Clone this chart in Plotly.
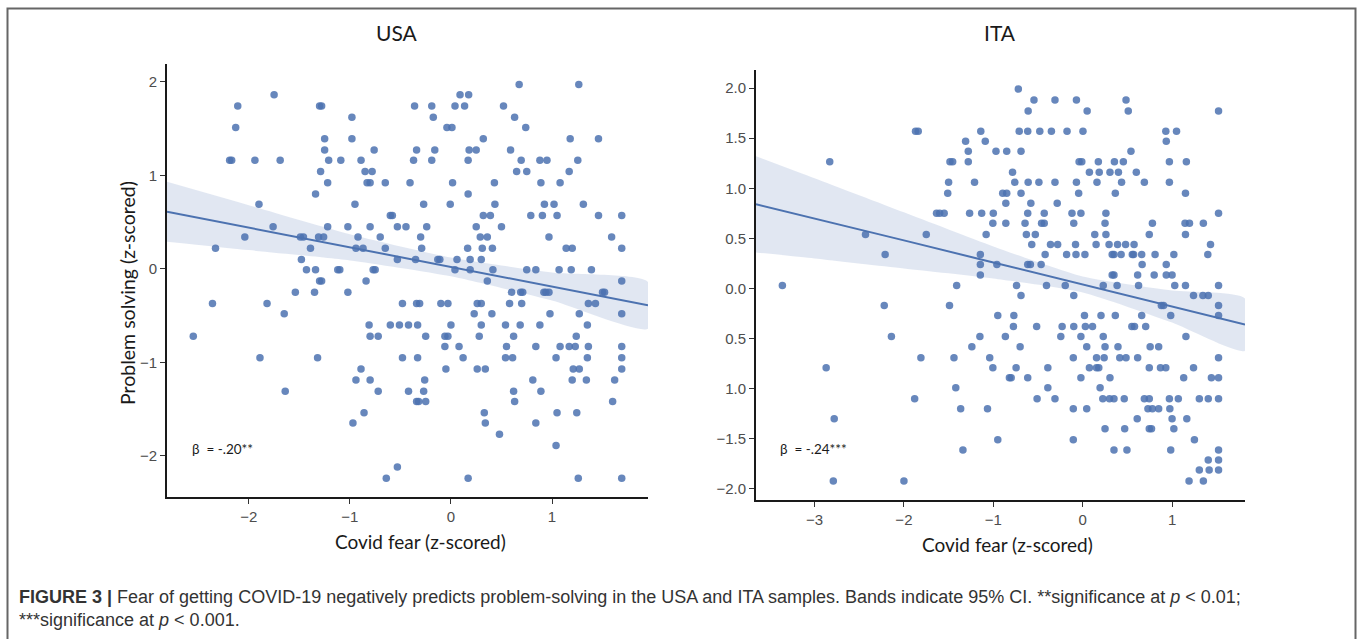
import plotly.graph_objects as go

W, H = 1360, 639

# ---------------- USA data ----------------
usa_levels = [1.97, 1.86, 1.74, 1.62, 1.51, 1.39, 1.27, 1.16, 1.04, 0.92, 0.80, 0.69, 0.57,
              0.45, 0.34, 0.22, 0.10, -0.01, -0.13, -0.25, -0.37, -0.48, -0.60, -0.72, -0.83,
              -0.95, -1.07, -1.19, -1.31, -1.42, -1.54, -1.65, -1.77, -1.89, -2.12, -2.24]
usa_x_by_level = [
    [0.675, 1.265],
    [-1.75, 0.09, 0.175],
    [-2.11, -1.30, -1.28, -0.36, -0.19, 0.04, 0.135, 0.52],
    [-0.98, -0.175, 0.63],
    [-2.13, -0.04, 0.01, 0.74],
    [-1.25, -0.98, 0.32, 1.18, 1.46],
    [-1.25, -0.76, -0.34, -0.16, 0.18, 0.25, 0.59],
    [-2.19, -2.17, -1.94, -1.69, -1.21, -1.09, -0.89, -0.37, -0.19, 0.17, 0.695, 0.88, 0.95, 1.255],
    [-1.29, -0.85, -0.78, 0.65, 0.75, 1.17],
    [-1.22, -0.83, -0.80, -0.65, -0.405, 0.016, 0.43, 0.89, 1.08],
    [-1.34, 0.17],
    [-1.90, -0.95, -0.27, -0.007, 0.435, 0.925, 1.02, 1.31],
    [-0.60, -0.58, 0.32, 0.39, 0.79, 0.905, 1.05, 1.46, 1.69],
    [-1.76, -1.22, -1.02, -0.80, -0.53, -0.445, -0.24, 0.25, 0.50],
    [-2.04, -1.49, -1.46, -1.31, -1.26, -0.92, -0.70, -0.30, 0.29, 0.36, 0.97, 1.59],
    [-2.33, -1.39, -0.94, -0.87, -0.65, -0.29, 0.165, 0.31, 0.41, 1.14, 1.20, 1.69],
    [-1.48, -0.53, -0.35, -0.13, -0.11, 0.06, 0.19, 0.30],
    [-1.43, -1.34, -1.12, -1.10, -0.77, -0.75, 0.04, 0.19, 0.415, 0.75, 0.84, 1.07, 1.19, 1.39],
    [-1.30, -1.28, -0.84, 0.36, 1.69],
    [-1.54, -1.35, -1.02, 0.60, 0.69, 0.71, 0.92, 0.94, 0.97, 1.50, 1.52],
    [-2.36, -1.82, -0.48, -0.34, -0.31, -0.10, -0.03, 0.26, 0.30, 0.58, 0.70, 1.36, 1.43],
    [-1.65, 0.23, 0.405, 0.98, 1.27, 1.69],
    [-0.81, -0.60, -0.51, -0.42, -0.33, 0.00, 0.30, 0.54, 0.685, 0.88, 1.35],
    [-2.55, -0.80, -0.72, -0.25, -0.06, -0.03, 0.28, 0.62, 1.24],
    [-0.06, 0.08, 0.55, 0.84, 1.08, 1.17, 1.23, 1.36, 1.69],
    [-1.89, -1.32, -0.48, -0.33, 0.12, 0.54, 0.61, 1.04, 1.35, 1.69],
    [-0.89, -0.05, 0.26, 0.34, 1.21, 1.27, 1.69],
    [-0.94, -0.80, -0.26, 0.81, 1.20, 1.34, 1.62],
    [-1.64, -0.72, -0.42, -0.27, 0.62, 0.89],
    [-0.34, -0.32, -0.25, 0.63, 1.60],
    [-0.86, 0.33, 1.05, 1.245],
    [-0.97, 0.34, 0.84],
    [0.48],
    [1.04],
    [-0.53],
    [-0.64, 0.17, 1.26, 1.69],
]
# regression line and 95% CI band
usa_band_x = [-2.81, -2.0, -1.0, 0.0, 1.0, 1.95]
usa_fit = [0.61, 0.44, 0.23, 0.02, -0.19, -0.39]
usa_lo = [0.29, 0.20, 0.09, -0.08, -0.34, -0.64]
usa_hi = [0.93, 0.68, 0.37, 0.12, -0.04, -0.14]

# ---------------- ITA data ----------------
ita_levels = [1.99, 1.88, 1.77, 1.57, 1.47, 1.37, 1.265, 1.16, 1.06, 0.95, 0.85, 0.75, 0.65,
              0.54, 0.44, 0.34, 0.24, 0.135, 0.03, -0.07, -0.17, -0.27, -0.38, -0.48, -0.58,
              -0.69, -0.79, -0.89, -0.99, -1.10, -1.20, -1.30, -1.40, -1.51, -1.61, -1.71,
              -1.81, -1.92]
ita_x_by_level = [
    [-0.72],
    [-0.545, -0.31, -0.07, 0.485],
    [-0.61, 0.05, 0.51, 1.52],
    [-1.87, -1.84, -1.14, -0.71, -0.615, -0.48, -0.35, -0.175, 0.003, 0.93, 1.05],
    [-1.31, -1.09, 0.935],
    [-1.28, -0.97, -0.85, -0.69, 0.54],
    [-2.83, -1.485, -1.455, -1.28, -0.04, -0.01, 0.175, 0.355, 0.455, 0.97, 1.16],
    [-0.785, 0.075, 0.185, 0.305, 0.40, 0.60],
    [-1.50, -1.21, -0.76, -0.61, -0.49, -0.31, -0.07, 0.16, 0.435, 0.69, 0.97],
    [-1.51, -0.895, -0.85, -0.69, -0.045, 0.365, 1.15],
    [-0.86, -0.58, -0.285],
    [-1.635, -1.60, -1.55, -1.265, -1.13, -1.00, -0.615, -0.43, -0.12, -0.02, 0.26, 1.52],
    [-1.005, -0.86, -0.645, -0.46, -0.43, -0.10, 0.25, 0.78, 1.145, 1.195, 1.35],
    [-2.43, -1.75, -1.08, -0.63, -0.53, 0.135, 0.26, 0.745, 1.15],
    [-0.57, -0.36, -0.28, -0.08, 0.15, 0.295, 0.39, 0.48, 0.575, 1.43],
    [-2.21, -1.145, -0.42, -0.18, -0.075, 0.025, 0.33, 0.35, 0.43, 0.555, 0.57, 0.66, 0.81, 1.02, 1.40],
    [-1.145, -0.96, -0.615, -0.585, -0.465, 0.665, 0.935],
    [-1.145, 0.33, 0.35, 0.615, 0.80, 0.935, 1.00],
    [-3.36, -1.41, -0.74, -0.405, -0.195, 0.23, 0.385, 0.625, 1.03, 1.15, 1.52],
    [-0.69, -0.10, 1.24, 1.345, 1.405],
    [-2.22, -1.49, 0.88, 0.905, 1.52],
    [-0.95, -0.77, 0.02, 0.205, 0.365, 0.66, 0.985, 1.52],
    [-0.775, -0.515, -0.23, -0.10, 0.03, 0.11, 0.55, 0.58, 0.705],
    [-2.14, -1.15, -0.865, -0.245, -0.02, 0.23, 1.155],
    [-1.24, -0.70, 0.045, 0.25, 0.395, 0.755, 0.85],
    [-1.81, -1.44, -1.04, -0.105, 0.155, 0.24, 0.415, 0.485, 0.615, 1.52],
    [-2.87, -1.005, -0.745, -0.39, 0.075, 0.155, 0.18, 0.745, 0.87, 0.93, 1.24],
    [-0.82, -0.80, -0.615, -0.02, 0.305, 1.13, 1.44, 1.52],
    [-1.42, -0.39, 0.195],
    [-1.88, -0.51, -0.31, 0.225, 0.30, 0.35, 0.465, 0.69, 0.745, 0.97, 1.07, 1.305, 1.405, 1.52],
    [-1.365, -1.065, -0.105, 0.045, 0.73, 0.78, 0.85, 0.975],
    [-2.78, 0.61, 1.00, 1.165],
    [0.25, 0.47, 0.745, 0.77, 1.02],
    [-0.95, -0.105, 1.25],
    [-1.34, 0.35, 0.495, 0.985, 1.52],
    [1.405, 1.52],
    [1.305, 1.415, 1.52],
    [-2.79, -2.0, 1.19, 1.35],
]
ita_band_x = [-3.655, -3.0, -2.0, -1.0, 0.0, 1.0, 1.816]
ita_fit = [0.84, 0.70, 0.48, 0.26, 0.04, -0.18, -0.36]
ita_lo = [0.36, 0.30, 0.20, 0.10, -0.04, -0.34, -0.62]
ita_hi = [1.32, 1.10, 0.76, 0.42, 0.12, -0.02, -0.10]

# tick labels as printed in the figure
usa_xticks = [-2, -1, 0, 1]
usa_yticks = [2, 1, 0, -1, -2]
ita_xticks = [-3, -2, -1, 0, 1]
ita_yticks = [2.0, 1.5, 1.0, 0.5, 0.0, -0.5, -1.0, -1.5, -2.0]
ita_yticktext = ["2.0", "1.5", "1.0", "0.5", "0.0", "0.5", "1.0", "\u22121.5", "\u22122.0"]

titles = ["USA", "ITA"]
x_title = "Covid fear (z-scored)"
y_title = "Problem solving (z-scored)"
betas = ["\u03b2  = -.20**", "\u03b2  = -.24***"]
caption1 = ("<b>FIGURE 3 |</b> Fear of getting COVID-19 negatively predicts problem-solving in the USA and ITA samples. "
            "Bands indicate 95% CI. **significance at <i>p</i> &lt; 0.01;")
caption2 = "***significance at <i>p</i> &lt; 0.001."


def expand(levels, xs_by_level):
    xs, ys = [], []
    for lv, xs_l in zip(levels, xs_by_level):
        for v in xs_l:
            xs.append(v)
            ys.append(lv)
    return xs, ys


usa_x, usa_y = expand(usa_levels, usa_x_by_level)
ita_x, ita_y = expand(ita_levels, ita_x_by_level)

PT = "rgba(76,114,176,0.85)"
LINE = "#4c72b0"
BAND = "rgba(76,114,176,0.17)"

fig = go.Figure()


def add_panel(xs, ys, bx, fit, lo, hi, xa, ya):
    fig.add_trace(go.Scatter(x=xs, y=ys, mode="markers", xaxis=xa, yaxis=ya,
                             marker=dict(size=7.5, color=PT, line=dict(width=0)),
                             showlegend=False, hoverinfo="skip"))
    fig.add_trace(go.Scatter(x=bx + bx[::-1], y=hi + lo[::-1], mode="lines", fill="toself",
                             fillcolor=BAND, line=dict(width=0, shape="spline", smoothing=0.6),
                             xaxis=xa, yaxis=ya, showlegend=False, hoverinfo="skip"))
    fig.add_trace(go.Scatter(x=bx, y=fit, mode="lines", line=dict(color=LINE, width=2),
                             xaxis=xa, yaxis=ya, showlegend=False, hoverinfo="skip"))


add_panel(usa_x, usa_y, usa_band_x, usa_fit, usa_lo, usa_hi, "x", "y")
add_panel(ita_x, ita_y, ita_band_x, ita_fit, ita_lo, ita_hi, "x2", "y2")

axis_common = dict(showgrid=False, zeroline=False, showline=True, linecolor="#1a1a1a", linewidth=2,
                   ticks="outside", ticklen=5, tickwidth=1.2, tickcolor="#333",
                   tickfont=dict(family="Liberation Sans, Arial", size=15, color="#4d4d4d"))


def px2fx(px):
    return px / W


def py2fy(py):
    return 1 - py / H


fig.update_layout(
    width=W, height=H, paper_bgcolor="white", plot_bgcolor="white",
    margin=dict(l=0, r=0, t=0, b=0),
    xaxis=dict(domain=[px2fx(167), px2fx(648)], range=[-2.81, 1.95], tickvals=usa_xticks,
               anchor="y", **axis_common),
    yaxis=dict(domain=[py2fy(497), py2fy(64)], range=[-2.44, 2.19], tickvals=usa_yticks,
               anchor="x", **axis_common),
    xaxis2=dict(domain=[px2fx(756), px2fx(1245)], range=[-3.655, 1.816], tickvals=ita_xticks,
                anchor="y2", **axis_common),
    yaxis2=dict(domain=[py2fy(500), py2fy(70)], range=[-2.11, 2.18], tickvals=ita_yticks,
                ticktext=ita_yticktext, anchor="x2", **axis_common),
)

ann_font = dict(family="Lato, Open Sans, sans-serif", color="#1a1a1a")
cap_font = dict(family="Liberation Sans, Arial", size=18, color="#333")
anns = [
    dict(x=px2fx(397), y=py2fy(33), text=titles[0], font=dict(size=21, **ann_font)),
    dict(x=px2fx(1000), y=py2fy(33), text=titles[1], font=dict(size=21, **ann_font)),
    dict(x=px2fx(420), y=py2fy(541), text=x_title, font=dict(size=19, **ann_font)),
    dict(x=px2fx(1007), y=py2fy(544), text=x_title, font=dict(size=19, **ann_font)),
    dict(x=px2fx(127), y=py2fy(293), text=y_title, textangle=-90, font=dict(size=19.5, **ann_font)),
    dict(x=px2fx(190), y=py2fy(449), text=betas[0], xanchor="left", font=dict(size=13.5, **ann_font)),
    dict(x=px2fx(778), y=py2fy(449), text=betas[1], xanchor="left", font=dict(size=13.5, **ann_font)),
    dict(x=px2fx(17), y=py2fy(597), text=caption1, xanchor="left", font=cap_font),
    dict(x=px2fx(17), y=py2fy(620), text=caption2, xanchor="left", font=cap_font),
]
for a in anns:
    a.setdefault("xanchor", "center")
    a.update(xref="paper", yref="paper", yanchor="middle", showarrow=False)
fig.update_layout(annotations=anns)

# outer frame (top, left and right edges)
fig.add_shape(type="path", xref="paper", yref="paper",
              path=f"M {px2fx(7.5)} {py2fy(650)} L {px2fx(7.5)} {py2fy(8.5)} "
                   f"L {px2fx(1355.5)} {py2fy(8.5)} L {px2fx(1355.5)} {py2fy(650)}",
              line=dict(color="#666", width=2))

fig.write_html("out.html", config={"displayModeBar": False},
               post_script="document.body.style.margin='0';")
